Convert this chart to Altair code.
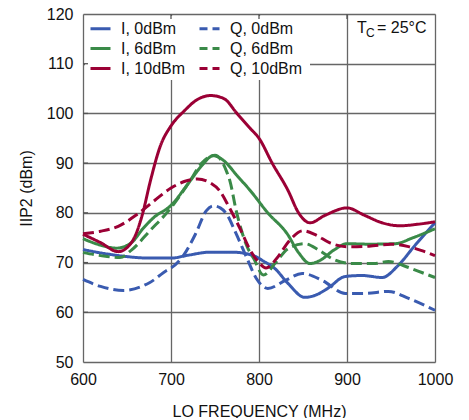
import altair as alt
import pandas as pd

SERIES = ["I, 0dBm", "I, 6dBm", "I, 10dBm", "Q, 0dBm", "Q, 6dBm", "Q, 10dBm"]
COLORS = ["#3a5bb0", "#3a8a48", "#9b0035", "#3a5bb0", "#3a8a48", "#9b0035"]
DASHES = [[1, 0], [1, 0], [1, 0], [11, 5], [11, 5], [11, 5]]

X_TICKS = [600, 700, 800, 900, 1000]
Y_TICKS = [50, 60, 70, 80, 90, 100, 110, 120]

i0_f = [600, 625, 650, 675, 700, 720, 745, 770, 785, 795, 805, 818, 833, 852, 865, 878, 898, 917, 940, 958, 977, 1000]
i0_v = [72.6, 71.8, 71.2, 70.9, 70.9, 71.5, 72.1, 72.1, 71.8, 71.3, 70.3, 68.8, 65.8, 63.0, 63.5, 64.8, 67.2, 67.4, 67.0, 69.4, 73.4, 78.0]

q0_f = [600, 620, 646, 676, 695, 700, 714, 728, 740, 748, 756, 763, 774, 786, 797, 810, 830, 849, 872, 898, 920, 947, 970, 1000]
q0_v = [66.6, 65.2, 64.4, 66.0, 68.4, 68.9, 71.4, 75.8, 80.4, 81.4, 81.0, 79.8, 75.8, 71.0, 66.8, 64.8, 66.4, 67.8, 66.4, 63.8, 63.8, 64.2, 62.8, 60.4]

i6_f = [600, 620, 638, 655, 668, 680, 700, 720, 735, 748, 760, 775, 790, 810, 832, 845, 858, 870, 885, 900, 925, 955, 975, 1000]
i6_v = [74.8, 73.5, 72.9, 74.0, 76.8, 79.0, 81.5, 86.0, 89.5, 91.5, 90.5, 87.5, 84.5, 80.0, 75.8, 72.0, 69.8, 70.5, 72.5, 73.8, 73.7, 73.8, 75.0, 76.8]

q6_f = [600, 620, 642, 655, 676, 700, 720, 735, 750, 763, 767, 774, 780, 787, 794, 805, 818, 833, 852, 868, 883, 906, 930, 947, 970, 985, 1000]
q6_v = [72.0, 71.4, 71.0, 72.5, 76.4, 81.0, 86.0, 90.0, 91.6, 88.4, 86.4, 80.5, 76.5, 73.0, 70.8, 67.5, 69.8, 72.8, 73.8, 72.5, 70.8, 69.8, 69.8, 70.2, 69.0, 68.0, 67.0]

i10_f = [600, 620, 640, 655, 668, 676, 688, 700, 715, 730, 745, 760, 775, 790, 800, 815, 833, 845, 858, 875, 900, 920, 940, 960, 980, 1000]
i10_v = [75.7, 74.0, 72.2, 74.0, 80.0, 86.0, 93.5, 97.5, 100.5, 102.8, 103.6, 103.0, 100.0, 97.0, 95.0, 90.0, 84.5, 80.0, 78.0, 79.5, 81.0, 79.5, 78.0, 77.4, 77.7, 78.2]

q10_f = [600, 620, 640, 660, 680, 700, 715, 730, 745, 755, 765, 778, 790, 800, 808, 820, 835, 850, 865, 880, 900, 925, 950, 970, 985, 1000]
q10_v = [75.8, 76.3, 77.3, 79.5, 82.3, 85.0, 86.3, 86.8, 86.0, 84.5, 81.5, 77.0, 72.5, 70.0, 68.9, 70.8, 74.5, 76.4, 75.5, 74.0, 73.2, 73.3, 73.7, 73.2, 72.4, 71.4]

FREQS = [i0_f, i6_f, i10_f, q0_f, q6_f, q10_f]
VALUES = [i0_v, i6_v, i10_v, q0_v, q6_v, q10_v]

rows = []
for name, fs, vs in zip(SERIES, FREQS, VALUES):
    for f, v in zip(fs, vs):
        rows.append({"series": name, "freq": f, "iip2": v})
df = pd.DataFrame(rows)

FONT = "Liberation Sans"

xscale = alt.Scale(domain=[600, 1000], nice=False)
yscale = alt.Scale(domain=[50, 120], nice=False)

base = alt.Chart(df)

lines = base.mark_line(interpolate="monotone", strokeWidth=3).encode(
    x=alt.X("freq:Q", scale=xscale,
            axis=alt.Axis(values=X_TICKS, format="d", labelFlush=False,
                          title="LO FREQUENCY (MHz)", grid=True, ticks=False,
                          domain=False, labelPadding=9, labelFontSize=16, labelFont=FONT,
                          labelColor="#111", titleFont=FONT, titleFontSize=16,
                          titleFontWeight="normal", titleColor="#111",
                          titleY=54, titleBaseline="alphabetic",
                          gridColor="#666", gridWidth=1.3)),
    y=alt.Y("iip2:Q", scale=yscale,
            axis=alt.Axis(values=Y_TICKS, format="d", labelFlush=False,
                          title="IIP2 (dBm)", grid=True, ticks=False,
                          domain=False, labelPadding=10, labelFontSize=16, labelFont=FONT,
                          labelColor="#111", titleFont=FONT, titleFontSize=16,
                          titleFontWeight="normal", titleColor="#111",
                          titleX=-57, titleBaseline="middle",
                          gridColor="#666", gridWidth=1.3)),
    color=alt.Color("series:N", scale=alt.Scale(domain=SERIES, range=COLORS),
                    legend=alt.Legend(title=None, orient="none", legendX=6, legendY=3,
                                      columns=2, columnPadding=7, rowPadding=0,
                                      symbolType="stroke", symbolSize=400,
                                      symbolStrokeWidth=3, symbolDashOffset=3,
                                      labelFont=FONT,
                                      labelFontSize=16, labelColor="#111",
                                      labelOffset=9, padding=0)),
    strokeDash=alt.StrokeDash("series:N", scale=alt.Scale(domain=SERIES, range=DASHES),
                              legend=None),
    detail="series:N",
)

cover = alt.Chart(pd.DataFrame({"a": [0]})).mark_rect(color="white").encode(
    x=alt.value(2), x2=alt.value(227), y=alt.value(2), y2=alt.value(66)
)

tick_top = alt.Chart(pd.DataFrame({"t": X_TICKS[1:-1]})).mark_rule(color="#555", strokeWidth=1.3).encode(
    x=alt.X("t:Q", scale=xscale), y=alt.value(0), y2=alt.value(5)
)
tick_left = alt.Chart(pd.DataFrame({"t": Y_TICKS[1:-1]})).mark_rule(color="#555", strokeWidth=1.3).encode(
    y=alt.Y("t:Q", scale=yscale), x=alt.value(0), x2=alt.value(5)
)

tc_t = alt.Chart(pd.DataFrame({"a": [0]})).mark_text(
    text="T", font=FONT, fontSize=16, align="left", baseline="alphabetic", color="#111"
).encode(x=alt.value(274), y=alt.value(19))
tc_c = alt.Chart(pd.DataFrame({"a": [0]})).mark_text(
    text="C", font=FONT, fontSize=12, align="left", baseline="alphabetic", color="#111"
).encode(x=alt.value(283), y=alt.value(23))
tc_rest = alt.Chart(pd.DataFrame({"a": [0]})).mark_text(
    text="= 25°C", font=FONT, fontSize=16, align="left", baseline="alphabetic", color="#111"
).encode(x=alt.value(294), y=alt.value(19))

chart = alt.layer(cover, tick_top, tick_left, lines, tc_t, tc_c, tc_rest).resolve_scale(
    x="shared", y="shared"
).properties(
    width=352, height=348, autosize=alt.AutoSizeParams(type="none"),
    padding={"left": 75, "top": 6, "right": 20, "bottom": 56}
).configure_view(stroke="#333", strokeWidth=2).configure(background="white")

chart.save("out.html", embed_options={"renderer": "svg", "actions": False})
